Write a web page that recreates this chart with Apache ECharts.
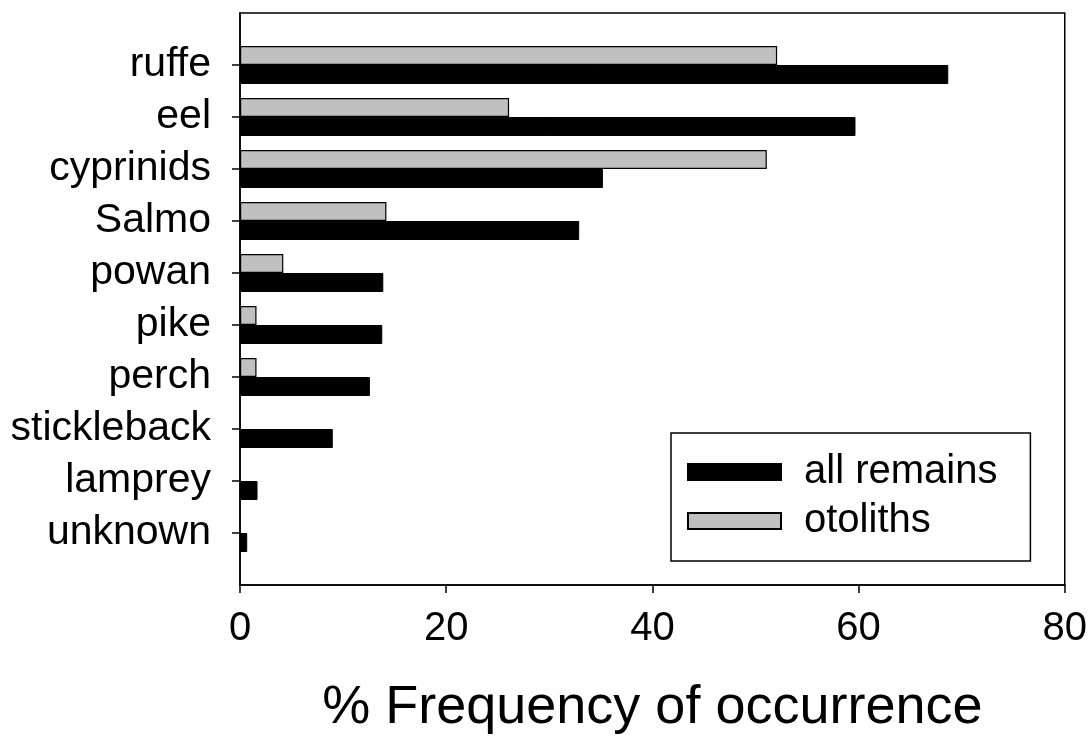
<!DOCTYPE html>
<html>
<head>
<meta charset="utf-8">
<script src="https://cdn.jsdelivr.net/npm/echarts@6/dist/echarts.min.js"></script>
<style>html,body{margin:0;padding:0;background:#fff}#c{width:1090px;height:740px}</style>
</head>
<body>
<div id="c"></div>
<script>
var categories = ['ruffe','eel','cyprinids','Salmo','powan','pike','perch','stickleback','lamprey','unknown'];
var allRemains = [68.7, 59.7, 35.2, 32.9, 13.9, 13.8, 12.6, 9.0, 1.7, 0.7];
var otoliths   = [52.1, 26.1, 51.1, 14.2, 4.2, 1.6, 1.6, 0, 0, 0];
var xTicks = [0, 20, 40, 60, 80];

var FONT = "'Liberation Sans', Arial, sans-serif";
// padded with blank slots at top and bottom
var yData = [''].concat(categories, ['']);
function pad(arr){ return [null].concat(arr.map(function(v){ return v === 0 ? null : v; }), [null]); }

var chart = echarts.init(document.getElementById('c'));
chart.setOption({
  animation: false,
  backgroundColor: '#fff',
  grid: { left: 240, right: 24, top: 13, bottom: 151, show: true, borderColor: '#000', borderWidth: 1.5, containLabel: false },
  legend: {
    data: ['all remains', 'otoliths'],
    orient: 'vertical',
    left: 671, top: 433,
    padding: [19, 33, 20, 16],
    icon: 'rect',
    itemWidth: 93, itemHeight: 16, itemGap: 9,
    borderColor: '#000', borderWidth: 1.5,
    backgroundColor: '#fff',
    textStyle: { fontFamily: FONT, fontSize: 40, color: '#000', lineHeight: 40, padding: [0, 0, 0, 18] }
  },
  xAxis: {
    type: 'value', min: xTicks[0], max: xTicks[xTicks.length - 1], interval: 20,
    axisLine: { show: true, lineStyle: { color: '#000', width: 1.5 } },
    axisTick: { show: true, length: 8, lineStyle: { color: '#000', width: 1.5 } },
    splitLine: { show: false },
    axisLabel: { fontFamily: FONT, fontSize: 40, color: '#000', margin: 24 },
    name: '% Frequency of occurrence',
    nameLocation: 'middle', nameGap: 96,
    nameTextStyle: { fontFamily: FONT, fontSize: 54, color: '#000' }
  },
  yAxis: {
    type: 'category', data: yData, inverse: true, boundaryGap: false,
    axisLine: { show: true, lineStyle: { color: '#000', width: 1.5 } },
    axisTick: { show: true, length: 8, lineStyle: { color: '#000', width: 1.5 },
      interval: function(i){ return i > 0 && i < yData.length - 1; } },
    axisLabel: { fontFamily: FONT, fontSize: 41, color: '#000', margin: 29, interval: 0 },
    splitLine: { show: false }
  },
  series: [
    { name: 'otoliths', type: 'bar', data: pad(otoliths), barWidth: 19, barGap: '0%',
      itemStyle: { color: '#c0c0c0', borderColor: '#000', borderWidth: 1.2 } },
    { name: 'all remains', type: 'bar', data: pad(allRemains), barWidth: 19, barGap: '0%',
      itemStyle: { color: '#000', borderColor: '#000', borderWidth: 1 } }
  ]
});
</script>
</body>
</html>
